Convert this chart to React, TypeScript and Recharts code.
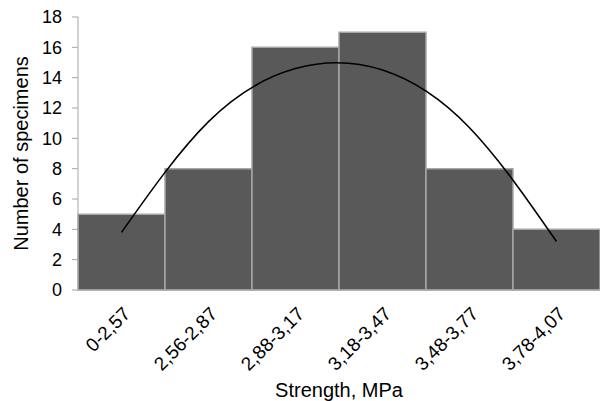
import { ComposedChart, Bar, Line, XAxis, YAxis } from 'recharts'

const ranges = ['0-2,57', '2,56-2,87', '2,88-3,17', '3,18-3,47', '3,48-3,77', '3,78-4,07']
const specimens = [5, 8, 16, 17, 8, 4]
const trend = [3.8, 11.1, 14.6, 14.5, 10.7, 3.2]
const yTicks = [0, 2, 4, 6, 8, 10, 12, 14, 16, 18]

const data = ranges.map((r, i) => ({ r, n: specimens[i], t: trend[i] }))

const font = 'Liberation Sans, Arial, sans-serif'

function RangeTick({ x, y, payload }: any) {
  return (
    <g transform={`translate(${x + 10},${y + 17})`}>
      <text textAnchor="end" fontSize={19} fill="#000" fontFamily={font} transform="rotate(-45)">
        {payload.value}
      </text>
    </g>
  )
}

export default function App() {
  return (
    <div style={{ position: 'absolute', left: 0, top: 0, background: '#fff' }}>
      <ComposedChart width={600} height={401} data={data} barCategoryGap={0} margin={{ top: 17, right: 0, bottom: 0, left: 0 }}>
        <XAxis
          dataKey="r"
          interval={0}
          tickLine={false}
          stroke="#a6a6a6"
          height={111}
          tick={<RangeTick />}
          label={{ value: 'Strength, MPa', position: 'insideBottom', offset: 4, fill: '#000', fontSize: 20, fontFamily: font }}
        />
        <YAxis
          domain={[0, 18]}
          ticks={yTicks}
          width={78}
          stroke="#a6a6a6"
          tickSize={6}
          tickMargin={10}
          tick={{ fill: '#000', fontSize: 18, fontFamily: font }}
          label={{ value: 'Number of specimens', angle: -90, position: 'insideLeft', offset: 21, style: { textAnchor: 'middle' }, fill: '#000', fontSize: 20, fontFamily: font }}
        />
        <Bar dataKey="n" fill="#595959" stroke="#a6a6a6" strokeWidth={1.5} isAnimationActive={false} />
        <Line dataKey="t" type="natural" stroke="#000" strokeWidth={1.6} dot={false} isAnimationActive={false} />
      </ComposedChart>
    </div>
  )
}
